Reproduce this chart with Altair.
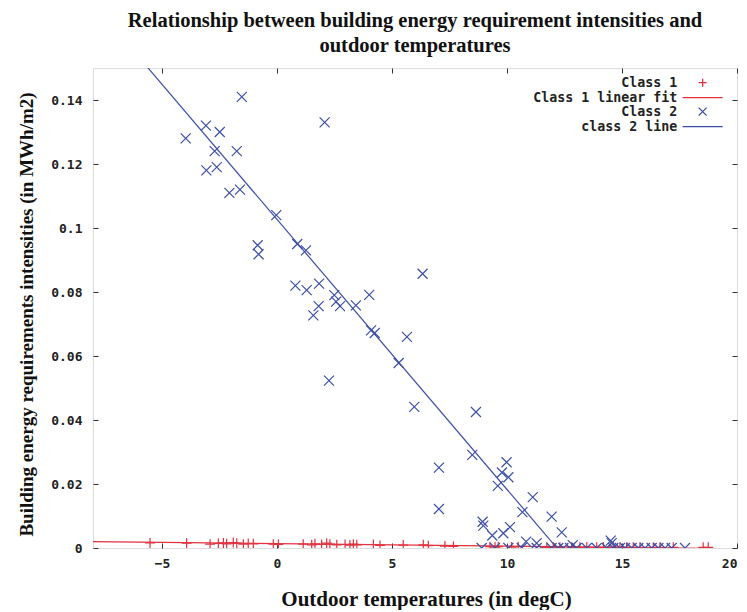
import altair as alt
import pandas as pd

# ---------------- data ----------------
X_DOMAIN = [-8, 20]
Y_DOMAIN = [0, 0.15]
X_TICKS = [-5, 0, 5, 10, 15, 20]
Y_TICKS = [0, 0.02, 0.04, 0.06, 0.08, 0.1, 0.12, 0.14]

SERIES = ["Class 1", "Class 1 linear fit", "Class 2", "class 2 line"]

class1_temp = [-5.52, -3.93, -2.91, -2.55, -2.33, -2.19, -1.9, -1.75, -1.46, -1.25,
               -1.03, -0.16, 0.06, 1.14, 1.51, 1.65, 1.94, 2.16, 2.3, 2.6,
               2.96, 3.17, 3.32, 3.47, 4.19, 4.48, 5.49, 6.36, 6.58, 7.3,
               7.67, 9.26, 9.48, 9.62, 10.2, 10.49, 11.73, 12.01, 12.3, 12.81,
               13.17, 13.47, 13.9, 14.19, 14.62, 14.91, 15.2, 15.49, 15.78, 16.36,
               16.65, 17.23, 18.53, 18.75]
class1_intensity = [0.0016, 0.0015, 0.0012, 0.0014, 0.0016, 0.0013, 0.0017, 0.0015, 0.0012, 0.0014,
                    0.0013, 0.0012, 0.0011, 0.0012, 0.0010, 0.0013, 0.0011, 0.0015, 0.0012, 0.0010,
                    0.0011, 0.0009, 0.0012, 0.0010, 0.0011, 0.0008, 0.0009, 0.0010, 0.0007, 0.0006,
                    0.0005, 0.0004, 0.0003, 0.0004, 0.0003, 0.0004, 0.0002, 0.0003, 0.0002, 0.0002,
                    0.0002, 0.0003, 0.0002, 0.0002, 0.0003, 0.0002, 0.0002, 0.0002, 0.0002, 0.0002,
                    0.0002, 0.0002, 0.0002, 0.0002]

class2_temp = [-3.97, -3.09, -2.49, -2.71, -1.75, -3.07, -2.62, -2.07, -1.61, -1.53,
               2.07, -0.03, -0.84, -0.80, 0.88, 1.26, 0.80, 1.29, 1.83, 2.49,
               2.57, 2.74, 1.81, 1.58, 3.43, 4.01, 4.09, 4.25, 5.65, 6.33,
               2.26, 5.29, 5.97, 8.65, 8.49, 7.04, 7.04, 9.98, 9.78, 10.06,
               9.6, 11.12, 10.67, 11.94, 12.38, 8.94, 8.97, 9.36, 9.84, 10.13,
               10.83, 11.29, 12.86, 14.51, 14.55,
               8.9, 9.48, 10.06, 10.64, 11.29, 11.94, 12.23, 12.45, 12.74, 13.03,
               13.47, 13.9, 14.34, 14.62, 14.91, 15.13, 15.42, 15.71, 16.0, 16.29,
               16.58, 16.87, 17.16, 17.74]
class2_intensity = [0.128, 0.132, 0.130, 0.124, 0.124, 0.118, 0.119, 0.111, 0.112, 0.141,
                    0.133, 0.104, 0.0946, 0.0918, 0.095, 0.093, 0.082, 0.0806, 0.0826, 0.079,
                    0.077, 0.0756, 0.0756, 0.0727, 0.0758, 0.0791, 0.068, 0.0672, 0.066, 0.0857,
                    0.0523, 0.0578, 0.0441, 0.0425, 0.0291, 0.0251, 0.0122, 0.0268, 0.0236, 0.0221,
                    0.0194, 0.0159, 0.0112, 0.0098, 0.0049, 0.0082, 0.007, 0.0039, 0.0046, 0.0065,
                    0.002, 0.0015, 0.0009, 0.0023, 0.0015,
                    0, 0, 0, 0, 0, 0, 0, 0, 0, 0,
                    0, 0, 0, 0, 0, 0, 0, 0, 0, 0,
                    0, 0, 0, 0]

# fitted lines: intercept, slope, x-range
class1_fit = {"a": 0.00135, "b": -0.000078, "x": [-8, 18.75]}
class2_fit = {"a": 0.1027, "b": -0.00844, "x": [-8, 12.17]}

RED = "#e23240"
BLUE = "#3c4ea8"
INK = "#222222"
MONO = "DejaVu Sans Mono"
SERIF = "Liberation Serif"

PLUS = "M-1,0L1,0M0,-1L0,1"
CROSS = "M-1,-1L1,1M-1,1L1,-1"
DASH = "M-5,0L5,0"

W, H = 644, 480

pts = pd.concat([
    pd.DataFrame({"temp": class1_temp, "val": class1_intensity, "series": "Class 1"}),
    pd.DataFrame({"temp": class2_temp, "val": class2_intensity, "series": "Class 2"}),
], ignore_index=True)

fit1 = pd.DataFrame({"temp": class1_fit["x"],
                     "val": [class1_fit["a"] + class1_fit["b"] * t for t in class1_fit["x"]]})
fit2 = pd.DataFrame({"temp": class2_fit["x"],
                     "val": [class2_fit["a"] + class2_fit["b"] * t for t in class2_fit["x"]]})

xs = alt.Scale(domain=X_DOMAIN, nice=False, zero=False)
ys = alt.Scale(domain=Y_DOMAIN, nice=False, zero=False)

tick_axis = dict(labels=False, domain=False, grid=False, ticks=True, tickSize=5,
                 tickColor="#333333", tickWidth=1, title=None)

label_style = dict(labelFont=MONO, labelFontWeight="bold", labelFontSize=13,
                   labelColor=INK, titleFont=SERIF, titleFontWeight="bold",
                   titleColor="#111111")

# Red fit line: carries inward ticks on the top and right edges
red_line = alt.Chart(fit1).mark_line(color=RED, strokeWidth=1.3, clip=True).encode(
    x=alt.X("temp:Q", scale=xs,
            axis=alt.Axis(orient="bottom", offset=-H, values=X_TICKS, **tick_axis)),
    y=alt.Y("val:Q", scale=ys,
            axis=alt.Axis(orient="left", offset=-W, values=Y_TICKS, **tick_axis)),
)

# Blue line: carries inward ticks on the bottom and left edges
blue_line = alt.Chart(fit2).mark_line(color=BLUE, strokeWidth=1.2, clip=True).encode(
    x=alt.X("temp:Q", scale=xs,
            axis=alt.Axis(orient="top", offset=-H, values=X_TICKS, **tick_axis)),
    y=alt.Y("val:Q", scale=ys,
            axis=alt.Axis(orient="right", offset=-W, values=Y_TICKS, **tick_axis)),
)

legend = alt.Legend(title=None, orient="none", legendX=603, legendY=8,
                    labelFont=MONO, labelFontWeight="bold", labelFontSize=13.3,
                    labelColor=INK, labelAlign="right", labelOffset={"expr": "-32"},
                    symbolSize=64, symbolStrokeWidth=1.3, symbolOpacity=1,
                    rowPadding=0, padding=0)

points = alt.Chart(pts).mark_point(filled=False, size=100, strokeWidth=1.2,
                                   opacity=1, clip=True).encode(
    x=alt.X("temp:Q", scale=xs,
            axis=alt.Axis(orient="bottom", values=X_TICKS, ticks=False, domain=False,
                          grid=False, labelPadding=9, labelFlush=True, labelOverlap=False,
                          format="~g",
                          title="Outdoor temperatures (in degC)", titleX=333, titleY=57,
                          titleFontSize=21,
                          titleAlign="center", titleBaseline="alphabetic", **label_style)),
    y=alt.Y("val:Q", scale=ys,
            axis=alt.Axis(orient="left", values=Y_TICKS, ticks=False, domain=False,
                          grid=False, labelPadding=11, labelFlush=False, labelOverlap=False,
                          format="~g",
                          title="Building energy requirements intensities (in MWh/m2)",
                          titleX=-61, titleY=246, titleAngle=270, titleFontSize=19,
                          titleAlign="center", titleBaseline="alphabetic", **label_style)),
    color=alt.Color("series:N",
                    scale=alt.Scale(domain=SERIES, range=[RED, RED, BLUE, BLUE]),
                    legend=legend),
    shape=alt.Shape("series:N",
                    scale=alt.Scale(domain=SERIES, range=[PLUS, DASH, CROSS, DASH]),
                    legend=legend),
)

chart = alt.layer(red_line, blue_line, points).resolve_scale(
    x="independent", y="independent"
).properties(
    width=W, height=H,
    autosize=alt.AutoSizeParams(type="none"),
    padding={"left": 85, "top": 60, "right": 2, "bottom": 62},
    title=alt.TitleParams(
        text=["Relationship between building energy requirement intensities and",
              "outdoor temperatures"],
        font=SERIF, fontSize=20.5, fontWeight="bold", color="#111111",
        anchor="middle", frame="group", offset=11, lineHeight=25),
).configure_view(
    stroke="#333333", strokeWidth=1.5
).configure(background="white")

chart.save("out.html", embed_options={"renderer": "svg", "actions": False})
